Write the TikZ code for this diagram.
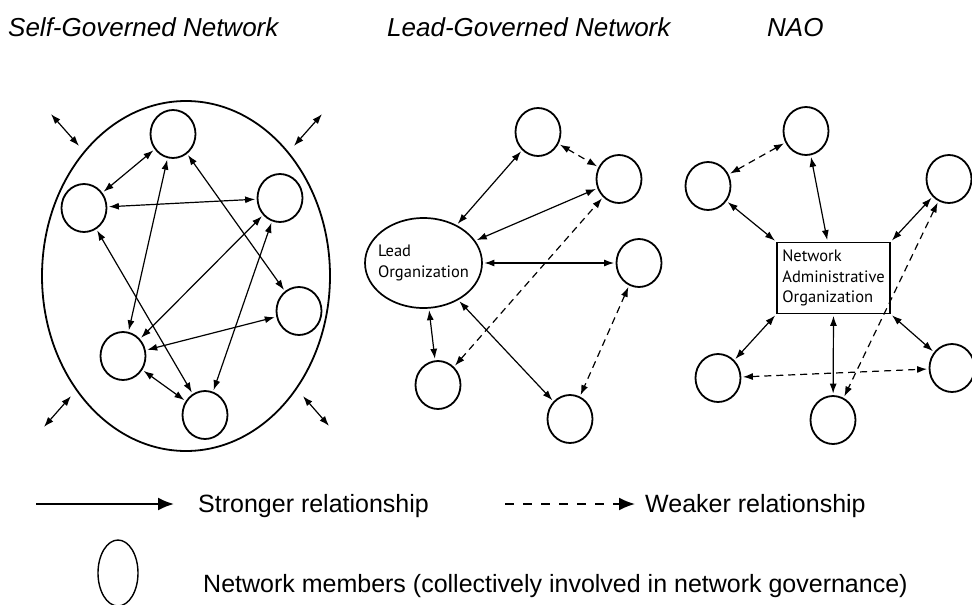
\documentclass[tikz,border=0pt]{standalone}
\usepackage{fontspec}
\setmainfont{Liberation Sans}
\newfontfamily\orgfont{PT Sans}
\usepackage{tikz}
\usetikzlibrary{arrows.meta,shapes.geometric,positioning}

\begin{document}
\begin{tikzpicture}[x=1pt,y=-1pt,
        member/.style={ellipse,draw,line width=1.8pt,minimum width=45pt,minimum height=48pt,inner sep=0pt},
        strong/.style={{Latex[length=10pt,width=7pt]}-{Latex[length=10pt,width=7pt]},line width=1.2pt,shorten <=1.5pt,shorten >=1.5pt},
        weak/.style={strong,dash pattern=on 7pt off 5pt},
        heading/.style={anchor=base west,inner sep=0pt,font=\fontsize{26}{30}\selectfont\itshape},
        keytext/.style={anchor=base west,inner sep=0pt,font=\fontsize{25}{30}\selectfont},
        org/.style={draw,line width=1.7pt,align=left,font=\orgfont\fontsize{16.5}{20.5}\selectfont}]
        \useasboundingbox (0,0) rectangle (972,605);

        \node[heading] (tself) at (8,36) {Self-Governed Network};
        \node[heading] (tlead) at (387,36) {Lead-Governed Network};
        \node[heading] (tnao) at (767,36) {NAO};

        % self-governed
        \node[ellipse,draw,line width=1.8pt,minimum width=288pt,minimum height=350pt] (sgn) at (186,276) {};
        \node[member] (s1) at (173,134) {};
        \node[member] (s2) at (84,208) {};
        \node[member] (s3) at (280,198) {};
        \node[member] (s4) at (299,311) {};
        \node[member] (s5) at (123,356) {};
        \node[member] (s6) at (205,415) {};
        \draw[strong] (s1) -- (s2);
        \draw[strong] (s2) -- (s3);
        \draw[strong] (s1) -- (s5);
        \draw[strong] (s1) -- (s4);
        \draw[strong] (s2) -- (s6);
        \draw[strong] (s3) -- (s5);
        \draw[strong] (s3) -- (s6);
        \draw[strong] (s4) -- (s5);
        \draw[strong] (s5) -- (s6);
        \coordinate (o1a) at (50,113);  \coordinate (o1b) at (80,147);
        \coordinate (o2a) at (323,113); \coordinate (o2b) at (293,147);
        \coordinate (o3a) at (72,395);  \coordinate (o3b) at (43,428);
        \coordinate (o4a) at (302,395); \coordinate (o4b) at (330,427);
        \draw[strong] (o1a) -- (o1b);
        \draw[strong] (o2a) -- (o2b);
        \draw[strong] (o3a) -- (o3b);
        \draw[strong] (o4a) -- (o4b);

        % lead-governed
        \node[org,ellipse,minimum width=117pt,minimum height=90pt,inner xsep=-6pt,inner ysep=0pt] (lead) at (423.5,263) {Lead\\Organization};
        \node[member] (l1) at (538,132) {};
        \node[member] (l2) at (619,179) {};
        \node[member] (l3) at (639,263) {};
        \node[member] (l4) at (438,385) {};
        \node[member] (l5) at (570,419) {};
        \draw[strong] (lead) -- (l1);
        \draw[strong] (lead) -- (l2);
        \draw[strong] (lead) -- (l3);
        \draw[strong] (lead) -- (l4);
        \draw[strong] (lead) -- (l5);
        \draw[weak] (l1) -- (l2);
        \draw[weak] (l4) -- (l2);
        \draw[weak] (l3) -- (l5);

        % NAO
        \node[org,minimum width=113pt,minimum height=71pt] (nao) at (833.5,278) {Network\\Administrative\\Organization};
        \node[member] (n1) at (806,131) {};
        \node[member] (n2) at (708,186) {};
        \node[member] (n3) at (949,179) {};
        \node[member] (n4) at (718,378) {};
        \node[member] (n5) at (833,420) {};
        \node[member] (n6) at (952,368) {};
        \draw[strong] (nao.north west) -- (n2);
        \draw[strong] (nao.north) ++(-6,0) coordinate (nt) (nt) -- (n1);
        \draw[strong] (nao.north east) -- (n3);
        \draw[strong] (nao.south west) -- (n4);
        \draw[strong] (nao.south) -- (n5);
        \draw[strong] (nao.south east) -- (n6);
        \draw[weak] (n1) -- (n2);
        \draw[weak] (n4) -- (n6);
        \draw[weak] (n3) -- (n5);

        % key
        \coordinate (ks1) at (36,504);  \coordinate (ks2) at (174,504);
        \coordinate (kw1) at (505,504); \coordinate (kw2) at (635,504);
        \draw[line width=2pt,-{Latex[length=16pt,width=13pt]}] (ks1) -- (ks2);
        \draw[line width=1.8pt,dash pattern=on 9pt off 9pt,-{Latex[length=16pt,width=13pt]}] (kw1) -- (kw2);
        \node[keytext] (tstrong) at (198,512) {Stronger relationship};
        \node[keytext] (tweak) at (645,512) {Weaker relationship};
        \node[ellipse,draw,line width=1.4pt,minimum width=40pt,minimum height=66pt] (key) at (118,573) {};
        \node[keytext] (tmembers) at (203,592) {Network members (collectively involved in network governance)};
    \end{tikzpicture}
\end{document}
